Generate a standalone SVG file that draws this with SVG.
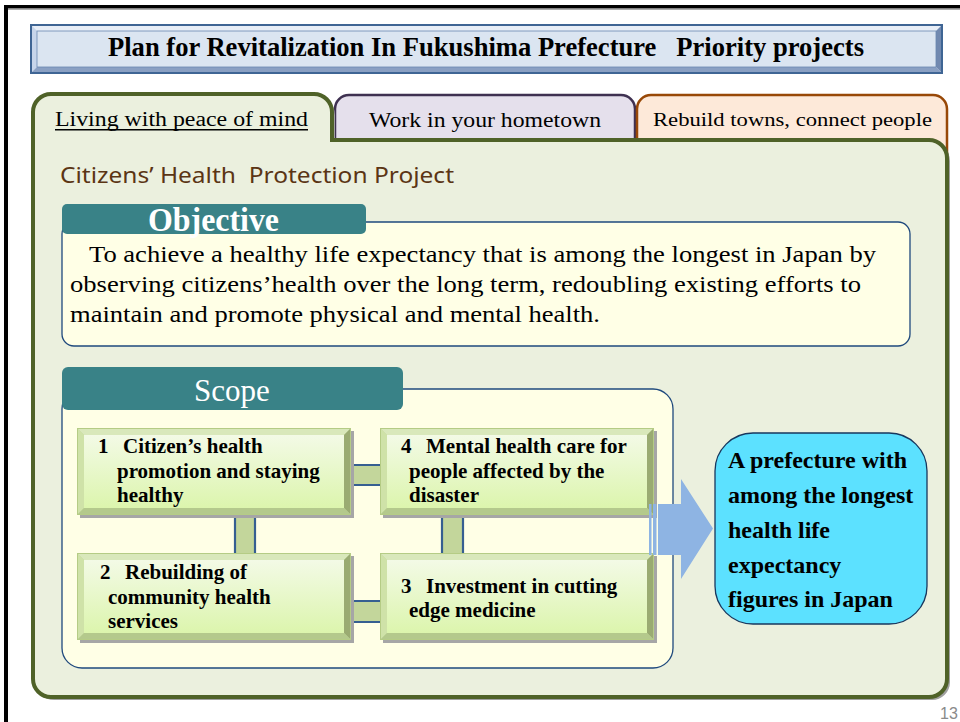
<svg xmlns="http://www.w3.org/2000/svg" width="960" height="722" viewBox="0 0 960 722">
<style>
.serif{font-family:"Liberation Serif","Times New Roman",serif;}
.b{font-weight:bold;}
.pre{white-space:pre;}
.boxt{font-family:"Liberation Serif","Times New Roman",serif;font-weight:bold;font-size:21px;fill:#000;}
.cyt{font-family:"Liberation Serif","Times New Roman",serif;font-weight:bold;font-size:24px;fill:#000;}
.obj{font-family:"Liberation Serif","Times New Roman",serif;font-size:24px;fill:#000;}
.bar{fill:#c3d69b;}
.barline{stroke:#365f91;stroke-width:2.2;fill:none;}
.bev-top{fill:#d9e8bb;}
.bev-left{fill:#cfe2a8;}
.bev-right{fill:#9aab72;}
.bev-bot{fill:#b4c98c;}
</style>
<defs>
<linearGradient id="face" x1="0" y1="0" x2="0" y2="1">
<stop offset="0" stop-color="#f3fae6"/>
<stop offset="1" stop-color="#dcf5ad"/>
</linearGradient>
<g id="bevelbox">
<rect x="3" y="3" width="274" height="87" fill="#a6a6a6"/>
<rect x="0" y="0" width="274" height="87" fill="#c3d69b"/>
<polygon class="bev-top" points="0,0 274,0 267,7 7,7"/>
<polygon class="bev-left" points="0,0 7,7 7,80 0,87"/>
<polygon class="bev-right" points="274,0 274,87 267,80 267,7"/>
<polygon class="bev-bot" points="0,87 274,87 267,80 7,80"/>
<rect x="7" y="7" width="260" height="73" fill="url(#face)"/>
<rect x="0.5" y="0.5" width="273" height="86" fill="none" stroke="#b5cc85" stroke-width="1"/>
</g>
</defs>

<rect x="0" y="0" width="960" height="722" fill="#ffffff"/>

<!-- slide frame -->
<g id="frame">
<rect x="4" y="5" width="956" height="3.5" fill="#000"/>
<rect x="8" y="8.5" width="952" height="1.2" fill="#8a8a8a"/>
<rect x="4" y="5" width="4" height="717" fill="#000"/>
</g>

<!-- title bar -->
<g id="title">
<rect x="31" y="25" width="911" height="48" fill="#dbe5f1"/>
<polygon points="31,25 942,25 936,31 37,31" fill="#e8eef7"/>
<polygon points="31,25 37,31 37,67 31,73" fill="#c7d5ea"/>
<polygon points="942,25 942,73 936,67 936,31" fill="#7189b0"/>
<polygon points="31,73 942,73 936,67 37,67" fill="#8aa0c3"/>
<rect x="37" y="31" width="899" height="36" fill="none" stroke="#6a88b2" stroke-width="0.8"/>
<rect x="31" y="25" width="911" height="48" fill="none" stroke="#3f6594" stroke-width="2"/>
<text class="serif b pre" x="108" y="56" font-size="27" textLength="756" lengthAdjust="spacingAndGlyphs">Plan for Revitalization In Fukushima Prefecture   Priority projects</text>
</g>

<!-- tabs behind -->
<g id="tab-work">
<path d="M335,160 V109 A14 14 0 0 1 349,95 H621 A14 14 0 0 1 635,109 V160 Z" fill="#e5e0ec" stroke="#3f3151" stroke-width="2.5"/>
<text class="serif" x="369" y="127" font-size="20" textLength="232" lengthAdjust="spacingAndGlyphs">Work in your hometown</text>
</g>
<g id="tab-rebuild">
<path d="M637,170 V109 A14 14 0 0 1 651,95 H933 A14 14 0 0 1 947,109 V170 Z" fill="#fde9d9" stroke="#984807" stroke-width="2.5"/>
<text class="serif" x="653" y="126" font-size="19" textLength="279" lengthAdjust="spacingAndGlyphs">Rebuild towns, connect people</text>
</g>

<!-- main panel with active tab -->
<g id="panel">
<path d="M36,115 A18 18 0 0 1 54,97 H317 A18 18 0 0 1 335,115 V143 H932 A18 18 0 0 1 950,161 V682 A18 18 0 0 1 932,700 H54 A18 18 0 0 1 36,682 Z" fill="#a0a0a0"/>
<path d="M33,112 A18 18 0 0 1 51,94 H314 A18 18 0 0 1 332,112 V140 H929 A18 18 0 0 1 947,158 V679 A18 18 0 0 1 929,697 H51 A18 18 0 0 1 33,679 Z" fill="#ebf0de" stroke="#4f6228" stroke-width="4"/>
<text class="serif" x="55" y="126" font-size="20.5" textLength="253" lengthAdjust="spacingAndGlyphs">Living with peace of mind</text>
<rect x="55" y="129" width="253" height="1.5" fill="#000"/>
<text class="pre" x="60" y="183" font-family="'Noto Sans','Liberation Sans',sans-serif" font-size="22" fill="#5b3514" textLength="394" lengthAdjust="spacingAndGlyphs">Citizens’ Health  Protection Project</text>
</g>

<!-- objective -->
<g id="objective">
<rect x="62" y="222" width="848" height="124" rx="12" fill="#ffffe6" stroke="#1f497d" stroke-width="1.3"/>
<rect x="62" y="204" width="304" height="30" rx="5" fill="#398287"/>
<text class="serif b" x="148" y="231" font-size="33" fill="#ffffff" textLength="131" lengthAdjust="spacingAndGlyphs">Objective</text>
<text class="obj" x="89" y="262" textLength="787" lengthAdjust="spacingAndGlyphs">To achieve a healthy life expectancy that is among the longest in Japan by</text>
<text class="obj" x="70" y="292" textLength="791" lengthAdjust="spacingAndGlyphs">observing citizens’health over the long term, redoubling existing efforts to</text>
<text class="obj" x="70" y="322" textLength="530" lengthAdjust="spacingAndGlyphs">maintain and promote physical and mental health.</text>
</g>

<!-- scope container -->
<g id="scope">
<rect x="62" y="389" width="611" height="279" rx="20" fill="#ffffe6" stroke="#1f497d" stroke-width="1.3"/>
<rect x="62" y="367" width="341" height="43" rx="6" fill="#398287"/>
<text class="serif" x="232" y="401" font-size="31" fill="#ffffff" text-anchor="middle">Scope</text>
</g>

<!-- connectors -->
<g id="connectors">
<rect class="bar" x="348" y="465" width="34" height="20"/>
<line class="barline" x1="348" y1="465" x2="382" y2="465"/>
<line class="barline" x1="348" y1="485" x2="382" y2="485"/>
<rect class="bar" x="348" y="601" width="34" height="21"/>
<line class="barline" x1="348" y1="601" x2="382" y2="601"/>
<line class="barline" x1="348" y1="622" x2="382" y2="622"/>
<rect class="bar" x="235" y="513" width="20" height="42"/>
<line class="barline" x1="235" y1="513" x2="235" y2="555"/>
<line class="barline" x1="255" y1="513" x2="255" y2="555"/>
<rect class="bar" x="442" y="513" width="21" height="42"/>
<line class="barline" x1="442" y1="513" x2="442" y2="555"/>
<line class="barline" x1="463" y1="513" x2="463" y2="555"/>
</g>

<!-- scope items -->
<g id="item1">
<use href="#bevelbox" x="77" y="428"/>
<text class="boxt"><tspan x="98" y="453">1</tspan><tspan x="123" y="453">Citizen’s health</tspan><tspan x="117" y="478">promotion and staying</tspan><tspan x="117" y="502">healthy</tspan></text>
</g>
<g id="item4">
<use href="#bevelbox" x="380" y="428"/>
<text class="boxt"><tspan x="401" y="453">4</tspan><tspan x="426" y="453">Mental health care for</tspan><tspan x="409" y="478">people affected by the</tspan><tspan x="409" y="502">disaster</tspan></text>
</g>
<g id="item2">
<use href="#bevelbox" x="77" y="553"/>
<text class="boxt"><tspan x="100" y="579">2</tspan><tspan x="125" y="579">Rebuilding of</tspan><tspan x="108" y="604">community health</tspan><tspan x="108" y="628">services</tspan></text>
</g>
<g id="item3">
<use href="#bevelbox" x="380" y="553"/>
<text class="boxt"><tspan x="401" y="593">3</tspan><tspan x="426" y="593">Investment in cutting</tspan><tspan x="409" y="617">edge medicine</tspan></text>
</g>

<!-- big arrow -->
<g id="arrow">
<rect x="649" y="504" width="2.5" height="51" fill="#8eb4e3"/>
<rect x="653" y="504" width="3.5" height="51" fill="#8eb4e3"/>
<polygon points="658,504 681,504 681,479 713,528.5 681,579 681,555 658,555" fill="#8eb4e3"/>
</g>

<!-- outcome -->
<g id="outcome">
<rect x="715" y="433" width="212" height="191" rx="38" fill="#5ce1ff" stroke="#17375e" stroke-width="1.3"/>
<text class="cyt"><tspan x="728" y="468">A prefecture with</tspan><tspan x="728" y="503">among the longest</tspan><tspan x="728" y="538">health life</tspan><tspan x="728" y="573">expectancy</tspan><tspan x="728" y="607">figures in Japan</tspan></text>
</g>

<text x="940" y="719" font-family="'Liberation Sans',sans-serif" font-size="16" fill="#8a8a8a">13</text>
</svg>
